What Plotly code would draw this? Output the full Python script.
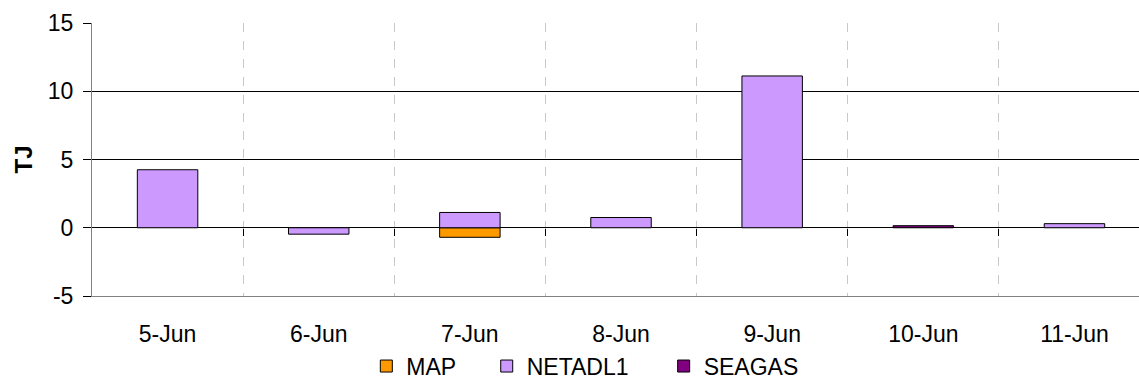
import plotly.graph_objects as go

# Daily values (TJ) per facility
days = ["5-Jun", "6-Jun", "7-Jun", "8-Jun", "9-Jun", "10-Jun", "11-Jun"]
map_tj = [None, None, -0.7, None, None, None, None]
netadl1_tj = [4.25, -0.47, 1.12, 0.75, 11.12, None, 0.3]
seagas_tj = [None, None, None, None, None, 0.15, None]
y_ticks = [-5, 0, 5, 10, 15]
y_tick_text = ["-5", "0", "5", "10", "15"]

colors = {"MAP": "#FF9900", "NETADL1": "#CC99FF", "SEAGAS": "#800080"}
font_family = "Liberation Sans, Arial, sans-serif"

positions = list(range(len(days)))
boundaries = [p + 0.5 for p in positions[:-1]]

# one legend box per series, laid out side by side under the axis
series = [("MAP", map_tj, "legend", 0.262),
          ("NETADL1", netadl1_tj, "legend2", 0.377),
          ("SEAGAS", seagas_tj, "legend3", 0.546)]

fig = go.Figure()
for name, vals, leg, _ in series:
    fig.add_trace(go.Bar(
        x=positions, y=vals, name=name, width=0.4, legend=leg,
        marker=dict(color=colors[name], line=dict(color="black", width=1)),
    ))

# carrier trace so the zero-crossing tick axis is drawn
fig.add_trace(go.Scatter(x=[None], y=[None], xaxis="x2", yaxis="y",
                         showlegend=False, hoverinfo="skip"))

x_range = [-0.5, 6.427]

legend_style = dict(orientation="h", y=-0.178, yanchor="top", xanchor="left",
                    font=dict(size=23), bgcolor="rgba(0,0,0,0)", borderwidth=0)

fig.update_layout(
    width=1139, height=380,
    margin=dict(l=92, r=0, t=23, b=84, autoexpand=False),
    paper_bgcolor="white", plot_bgcolor="white",
    barmode="relative",
    font=dict(family=font_family, size=23, color="black"),
    showlegend=True,
    legend=dict(x=series[0][3], **legend_style),
    legend2=dict(x=series[1][3], **legend_style),
    legend3=dict(x=series[2][3], **legend_style),
    xaxis=dict(
        range=x_range, tickvals=positions, ticktext=days, ticks="",
        showgrid=False, zeroline=False, automargin=False,
        showline=True, linecolor="#808080", linewidth=1,
        minor=dict(tickvals=boundaries, showgrid=True, gridcolor="#C8C8C8",
                   griddash="dash", gridwidth=1, ticks=""),
        tickfont=dict(size=23), ticklabelstandoff=17,
    ),
    xaxis2=dict(
        range=x_range, overlaying="x", anchor="free", position=0.25, side="bottom",
        tickvals=boundaries, ticks="outside", ticklen=7, tickcolor="black", tickwidth=1,
        showticklabels=False, showgrid=False, zeroline=False, showline=False,
    ),
    yaxis=dict(
        range=[-5, 15], tickvals=y_ticks, ticktext=y_tick_text, ticks="outside", ticklen=8,
        tickcolor="black", showgrid=True, gridcolor="black", gridwidth=1,
        zeroline=True, zerolinecolor="black", zerolinewidth=1, automargin=False,
        showline=True, linecolor="#808080", linewidth=1,
        tickfont=dict(size=23), ticklabelstandoff=5,
        title=dict(text="<b>TJ</b>", font=dict(size=24), standoff=8),
    ),
)

fig.write_html("out.html")
